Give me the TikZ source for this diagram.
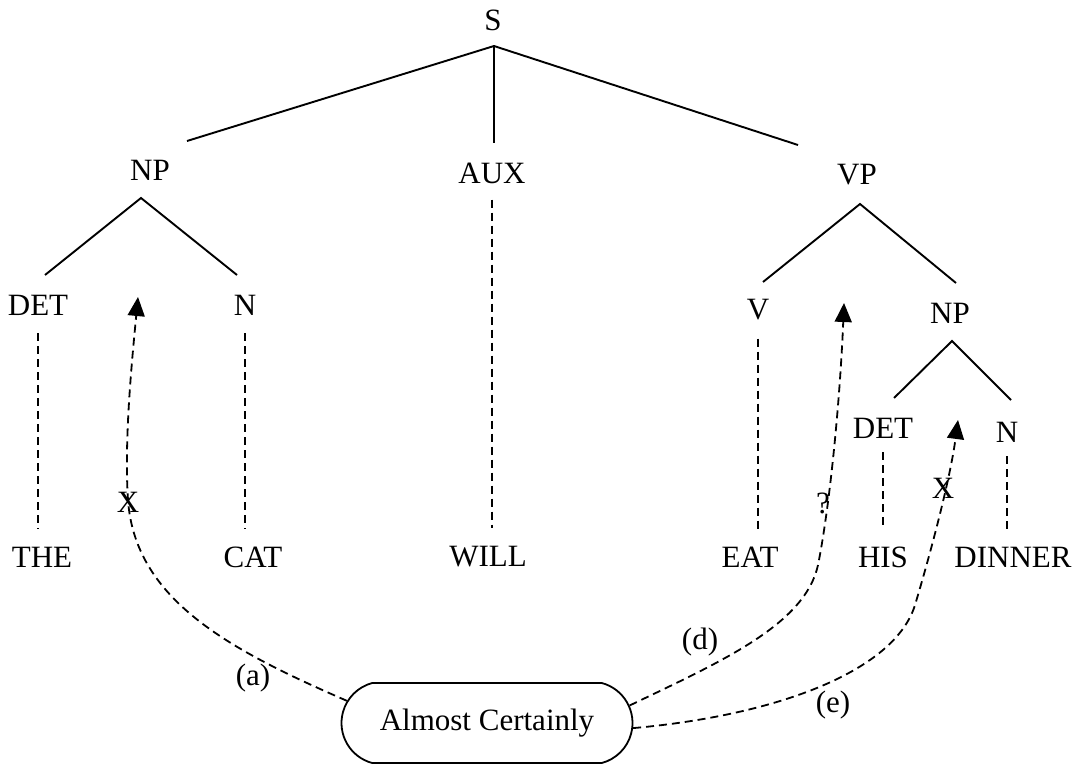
\documentclass[tikz,border=0pt]{standalone}
\usepackage{fontspec}
\setmainfont{Liberation Serif}
\usetikzlibrary{arrows.meta,shapes.misc}
\begin{document}
\begin{tikzpicture}[x=1pt,y=-1pt,
  lbl/.style={font=\fontsize{31}{36}\selectfont, inner sep=0pt},
  branch/.style={line width=1.9pt},
  trace/.style={line width=1.8pt, dash pattern=on 8pt off 5pt,
                shorten <=18pt, shorten >=18pt},
  link/.style={line width=1.8pt, dash pattern=on 8pt off 5pt,
               -{Triangle[length=19pt,width=17pt]}},
  pill/.style={draw, line width=1.8pt, rounded rectangle,
               rounded rectangle arc length=150,
               minimum width=291pt, minimum height=80pt, inner sep=0pt,
               font=\fontsize{31}{36}\selectfont}
]
\useasboundingbox (0,0) rectangle (1083,767);

% category labels
\node[lbl] (S)    at (493,20)  {S};
\node[lbl] (NP1)  at (150,170) {NP};
\node[lbl] (AUX)  at (492,173) {AUX};
\node[lbl] (VP)   at (857,175) {VP};
\node[lbl] (DET1) at (38,305)  {DET};
\node[lbl] (N1)   at (245,305) {N};
\node[lbl] (V)    at (758,310) {V};
\node[lbl] (NP2)  at (950,313) {NP};
\node[lbl] (DET2) at (883,428) {DET};
\node[lbl] (N2)   at (1007,432){N};

% words
\node[lbl] (THE)    at (42,557)   {THE};
\node[lbl] (CAT)    at (253,557)  {CAT};
\node[lbl] (WILL)   at (488,557)  {WILL};
\node[lbl] (EAT)    at (750,557)  {EAT};
\node[lbl] (HIS)    at (883,557)  {HIS};
\node[lbl] (DINNER) at (1013,557) {DINNER};

% branch points and branch ends
\coordinate (S-b)   at (494,46);
\coordinate (NP1-t) at (187,141);
\coordinate (AUX-t) at (494,143);
\coordinate (VP-t)  at (798,145);
\coordinate (NP1-b) at (141,198);
\coordinate (DET1-t) at (45,275);
\coordinate (N1-t)  at (237,275);
\coordinate (VP-b)  at (860,204);
\coordinate (V-t)   at (763,282);
\coordinate (NP2-t) at (956,283);
\coordinate (NP2-b) at (952,341);
\coordinate (DET2-t) at (894,398);
\coordinate (N2-t)  at (1011,400);

\draw[branch] (NP1-t) -- (S-b) -- (VP-t);
\draw[branch] (S-b) -- (AUX-t);
\draw[branch] (DET1-t) -- (NP1-b) -- (N1-t);
\draw[branch] (V-t) -- (VP-b) -- (NP2-t);
\draw[branch] (DET2-t) -- (NP2-b) -- (N2-t);

% lexical links
\draw[trace] (DET1.south) -- (DET1.south |- THE.north);
\draw[trace] (N1.south)   -- (N1.south |- CAT.north);
\draw[trace, shorten <=16pt] (AUX.south) -- (AUX.south |- WILL.north);
\draw[trace] (V.south)    -- (V.south |- EAT.north);
\draw[trace, shorten <=14pt] (DET2.south) -- (DET2.south |- HIS.north);
\draw[trace, shorten <=14pt] (N2.south)   -- (N2.south |- DINNER.north);

% adverb and its attachment sites
\node[pill] (box) at (487,723) {Almost Certainly};
\coordinate (gapA) at (138,297);
\coordinate (gapD) at (844,303);
\coordinate (gapE) at (958,420);

\draw[link] (box.171) .. controls (230,650) and (135,600) .. (128,500)
            .. controls (124,440) and (132,360) .. (gapA);
\draw[link] (box.7) .. controls (720,662) and (805,625) .. (818,565)
            .. controls (830,505) and (840,400) .. (gapD);
\draw[link] (box.-2) .. controls (780,715) and (895,670) .. (915,605)
            .. controls (930,555) and (950,480) .. (gapE);

% judgements and path labels
\node[lbl] (xa) at (128,502) {X};
\node[lbl] (qd) at (823,503) {?};
\node[lbl] (xe) at (943,488) {X};
\node[lbl] (la) at (253,678) {(a)};
\node[lbl] (ld) at (700,642) {(d)};
\node[lbl] (le) at (833,705) {(e)};
\end{tikzpicture}
\end{document}
